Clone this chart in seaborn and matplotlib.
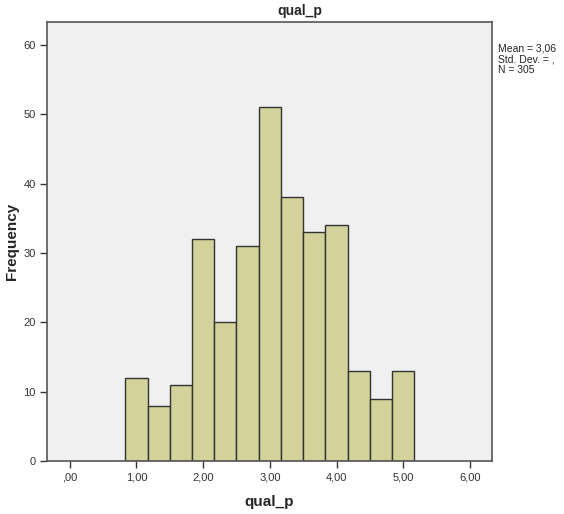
import matplotlib
matplotlib.use('Agg')
import matplotlib.pyplot as plt
import seaborn as sns
import pandas as pd

# histogram data (bins of width 1/3)
bin_edges = [0.8333, 1.1667, 1.5, 1.8333, 2.1667, 2.5, 2.8333, 3.1667,
             3.5, 3.8333, 4.1667, 4.5, 4.8333, 5.1667]
counts = [12, 8, 11, 32, 20, 31, 51, 38, 33, 34, 13, 9, 13]
x_ticks = [0, 1, 2, 3, 4, 5, 6]
x_tick_labels = [',00', '1,00', '2,00', '3,00', '4,00', '5,00', '6,00']
y_ticks = [0, 10, 20, 30, 40, 50, 60]
stats_lines = ['Mean = 3,06', 'Std. Dev. = ,', 'N = 305']

centers = [(bin_edges[i] + bin_edges[i + 1]) / 2 for i in range(len(counts))]
df = pd.DataFrame({'qual_p': centers, 'count': counts})

sns.set_style('white')
plt.rcParams['font.family'] = ['Liberation Sans', 'DejaVu Sans']

fig = plt.figure(figsize=(5.64, 5.14), dpi=100)
ax = fig.add_axes([0.0833, 0.1031, 0.789, 0.854])
ax.set_facecolor('#f0f0f0')

sns.histplot(data=df, x='qual_p', weights='count', bins=bin_edges, ax=ax,
             color='#d3d29b', edgecolor='#333333', linewidth=1.0, alpha=1)

ax.set_xlim(-0.34, 6.33)
ax.set_ylim(0, 63.3)
ax.set_xticks(x_ticks)
ax.set_xticklabels(x_tick_labels)
ax.set_yticks(y_ticks)
ax.tick_params(axis='both', direction='out', length=5, width=1,
               color='#333333', labelsize=8, labelcolor='#333333', pad=3,
               bottom=True, left=True)
for s in ax.spines.values():
    s.set_color('#555555')
    s.set_linewidth(1.2)

ax.set_xlabel('qual_p', fontsize=11, fontweight='bold', labelpad=9)
ax.set_ylabel('Frequency', fontsize=11, fontweight='bold', labelpad=3)

fig.text(0.532, 0.978, 'qual_p', ha='center', va='center', fontsize=10,
         fontweight='bold')
for i, line in enumerate(stats_lines):
    fig.text(0.883, 0.906 - i * 0.021, line, ha='left', va='center',
             fontsize=7.5, color='#222222')

fig.savefig('out.png', dpi=100, facecolor='white')
